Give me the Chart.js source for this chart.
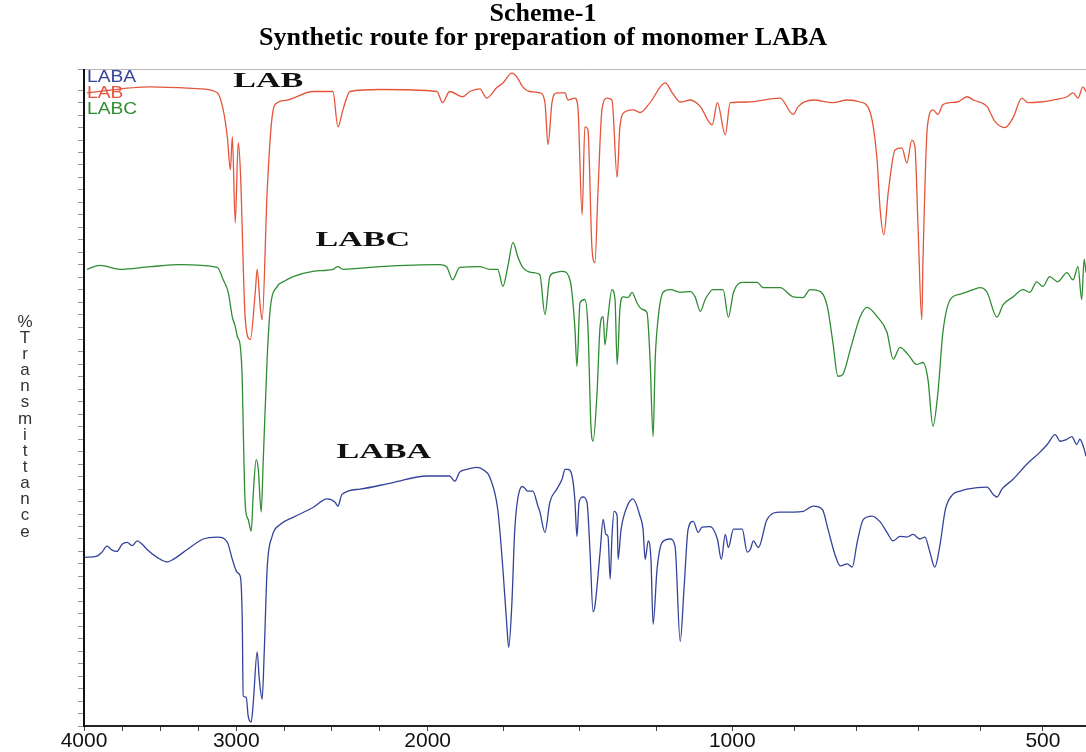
<!DOCTYPE html>
<html>
<head>
<meta charset="utf-8">
<script src="https://cdn.jsdelivr.net/npm/chart.js@4.4.1/dist/chart.umd.min.js"></script>
<style>
  html, body { margin: 0; padding: 0; background: #fff; }
  #wrap { width: 1086px; height: 752px; position: relative; }
</style>
</head>
<body>
<div id="wrap"><canvas id="chart"></canvas></div>
<script>
// wave number (cm-1) and % transmittance
const labaPoints = [
    [3993, 25.7], [3914, 25.9], [3882, 26.5], [3849, 27.4], [3816, 26.8], [3783, 26.6], [3750, 27.7],
    [3717, 28.0], [3684, 27.5], [3651, 28.2], [3618, 27.7], [3586, 26.9], [3520, 25.7], [3454, 25.0],
    [3414, 25.4], [3322, 26.9], [3217, 28.5], [3125, 28.8], [3059, 28.0], [3026, 25.4], [2995, 23.4],
    [2979, 22.8], [2969, 16.3], [2964, 4.6], [2948, 4.4], [2938, 1.5], [2922, 0.6], [2911, 3.7],
    [2891, 11.3], [2880, 7.2], [2865, 4.1], [2854, 11.3], [2839, 23.9], [2813, 28.9], [2771, 30.7],
    [2703, 31.8], [2599, 33.3], [2526, 34.6], [2484, 34.1], [2469, 33.5], [2448, 35.3], [2354, 36.1],
    [2182, 37.1], [2005, 38.1], [1928, 38.1], [1911, 37.3], [1895, 38.7], [1872, 39.1], [1839, 39.4],
    [1819, 39.1], [1796, 37.9], [1770, 33.0], [1753, 23.9], [1740, 15.2], [1734, 12.0], [1724, 18.3],
    [1714, 30.0], [1697, 36.1], [1688, 36.5], [1671, 35.8], [1655, 35.8], [1638, 33.5], [1632, 32.7],
    [1615, 29.5], [1599, 34.1], [1576, 36.1], [1559, 37.6], [1549, 39.1], [1540, 39.1], [1526, 38.1],
    [1517, 34.6], [1510, 28.9], [1503, 34.1], [1490, 34.9], [1477, 34.1], [1467, 26.5], [1457, 17.4],
    [1451, 18.3], [1434, 26.5], [1424, 31.5], [1415, 29.2], [1408, 28.9], [1401, 22.4], [1395, 28.9],
    [1388, 32.7], [1378, 32.0], [1375, 25.4], [1365, 30.0], [1345, 33.5], [1326, 34.6], [1303, 32.0],
    [1293, 30.0], [1286, 25.4], [1276, 28.2], [1267, 25.4], [1260, 15.5], [1247, 23.9], [1230, 28.0],
    [1204, 28.5], [1188, 27.4], [1171, 12.9], [1158, 21.3], [1145, 30.0], [1128, 31.2], [1112, 29.5],
    [1099, 30.3], [1073, 30.4], [1049, 28.5], [1036, 25.4], [1023, 29.2], [1013, 27.2], [998, 30.0],
    [984, 30.0], [976, 26.5], [971, 26.9], [966, 28.2], [958, 27.2], [944, 31.5], [923, 32.6],
    [902, 32.6], [886, 32.7], [870, 33.5], [855, 33.0], [846, 30.0], [834, 25.9], [826, 24.4],
    [815, 24.7], [807, 24.2], [799, 28.0], [789, 31.5], [775, 32.0], [762, 31.1], [751, 29.5],
    [741, 28.2], [730, 28.9], [719, 28.8], [709, 29.2], [698, 28.5], [690, 28.8], [682, 26.5],
    [674, 24.2], [666, 27.4], [657, 33.0], [645, 35.3], [633, 35.8], [622, 36.1], [590, 36.4],
    [580, 35.3], [574, 34.9], [566, 36.1], [548, 37.6], [526, 39.9], [505, 41.7], [493, 42.9],
    [480, 44.4], [472, 43.4], [461, 43.7], [453, 44.1], [445, 42.9], [440, 43.7], [433, 42.2], [430, 41.1]
];

const labPoints = [
    [3980, 96.5], [3566, 97.4], [3237, 97.1], [3125, 96.5], [3086, 93.9], [3059, 89.8], [3039, 84.8],
    [3026, 89.8], [3007, 76.7], [2990, 88.9], [2979, 84.8], [2953, 61.9], [2927, 58.9], [2901, 66.1],
    [2891, 69.6], [2875, 63.9], [2865, 61.9], [2839, 81.3], [2813, 92.8], [2786, 95.0], [2734, 95.4],
    [2599, 96.7], [2495, 96.7], [2469, 91.3], [2443, 93.9], [2406, 96.7], [2250, 97.0], [1970, 96.7],
    [1951, 95.0], [1928, 96.7], [1885, 95.9], [1862, 96.7], [1829, 97.1], [1806, 95.7], [1773, 97.3],
    [1753, 98.0], [1724, 99.5], [1707, 98.9], [1688, 97.4], [1665, 96.7], [1632, 96.5], [1615, 95.0],
    [1605, 88.6], [1592, 95.0], [1576, 96.5], [1549, 96.5], [1540, 95.4], [1517, 95.7], [1507, 94.4],
    [1493, 77.9], [1484, 91.3], [1474, 90.9], [1461, 73.1], [1451, 70.6], [1441, 81.3], [1428, 93.9],
    [1411, 95.7], [1395, 95.4], [1378, 83.6], [1369, 91.3], [1352, 93.6], [1326, 93.9], [1303, 93.5],
    [1270, 95.0], [1220, 98.0], [1197, 96.5], [1171, 95.1], [1138, 95.4], [1105, 94.4], [1066, 91.6],
    [1049, 95.0], [1023, 90.1], [1007, 95.0], [976, 95.1], [923, 95.7], [902, 93.2], [894, 94.4],
    [870, 95.4], [838, 95.0], [815, 95.4], [794, 95.1], [778, 93.5], [767, 86.3], [762, 78.7],
    [756, 74.9], [749, 81.3], [738, 87.8], [727, 88.1], [719, 85.8], [711, 89.3], [706, 88.3],
    [701, 76.1], [695, 61.9], [693, 71.1], [686, 91.3], [677, 93.9], [669, 93.2], [661, 94.7],
    [638, 95.1], [622, 95.9], [612, 95.4], [590, 94.4], [577, 92.1], [561, 91.2], [548, 92.7],
    [534, 95.7], [524, 95.0], [505, 95.1], [484, 95.4], [461, 95.9], [451, 96.5], [443, 95.7],
    [435, 97.4], [430, 96.7]
];

const labcPoints = [
    [3980, 69.6], [3895, 70.2], [3763, 69.6], [3566, 70.0], [3368, 70.3], [3125, 69.9], [3086, 68.0],
    [3053, 66.1], [3026, 62.3], [3007, 60.9], [2995, 59.4], [2979, 57.8], [2969, 52.8], [2964, 45.7],
    [2953, 33.5], [2938, 31.5], [2922, 29.7], [2911, 35.6], [2896, 40.6], [2885, 39.1], [2870, 32.6],
    [2859, 40.6], [2839, 55.9], [2823, 63.5], [2786, 67.0], [2755, 67.7], [2703, 68.5], [2599, 69.3],
    [2495, 69.6], [2469, 70.0], [2443, 69.6], [2250, 70.0], [1961, 70.3], [1938, 70.0], [1918, 68.0],
    [1895, 69.9], [1829, 70.0], [1796, 69.6], [1770, 69.6], [1753, 67.0], [1737, 70.0], [1720, 73.7],
    [1704, 71.5], [1688, 69.9], [1655, 69.1], [1632, 68.8], [1615, 62.7], [1599, 68.5], [1582, 69.1],
    [1559, 69.3], [1533, 68.0], [1517, 60.9], [1510, 54.8], [1500, 64.5], [1484, 65.0], [1474, 60.9],
    [1464, 45.7], [1457, 43.4], [1444, 50.8], [1434, 60.9], [1424, 62.4], [1418, 58.1], [1408, 62.4],
    [1395, 66.5], [1385, 65.0], [1378, 55.1], [1369, 63.5], [1359, 65.4], [1342, 65.3], [1329, 66.1],
    [1313, 64.5], [1296, 63.5], [1280, 63.0], [1270, 55.9], [1260, 44.1], [1253, 55.9], [1244, 61.9],
    [1227, 66.1], [1204, 66.5], [1171, 66.1], [1138, 66.2], [1122, 65.4], [1105, 63.2], [1089, 65.0],
    [1063, 66.5], [1030, 66.5], [1013, 62.3], [998, 66.1], [982, 67.6], [960, 67.6], [950, 66.8],
    [923, 66.8], [902, 65.4], [886, 65.3], [875, 66.5], [858, 66.2], [847, 63.9], [838, 58.4],
    [830, 53.3], [822, 53.6], [810, 57.4], [794, 62.4], [783, 63.8], [767, 62.4], [751, 60.0],
    [741, 55.9], [730, 57.7], [717, 56.6], [703, 55.1], [693, 55.4], [685, 52.8], [677, 45.7],
    [669, 50.8], [661, 60.0], [649, 65.0], [633, 65.8], [612, 66.5], [601, 66.8], [590, 66.1],
    [574, 62.3], [564, 64.2], [548, 65.4], [532, 66.5], [521, 66.1], [510, 67.7], [500, 67.0],
    [489, 68.5], [476, 67.7], [461, 69.1], [451, 68.0], [443, 70.0], [437, 65.0], [433, 71.1], [430, 69.1]
];

const waveTicks = [4000, 3750, 3500, 3250, 3000, 2750, 2500, 2250, 2000, 1750, 1500, 1250, 1000, 900, 800, 700, 600, 500];
const labelledTicks = [4000, 3000, 2000, 1000, 500];

// names written next to each trace
const traceNames = ["LAB", "LABC", "LABA"];
const traceNameWave = [2833, 2339, 2229];
const traceNameT = [98.2, 74.0, 41.7];

// the spectrometer changes x scale at 3000, 2000, 1000 and 500 cm-1
const axisBreaks = [[4000, 0], [3000, 0.152], [2000, 0.343], [1000, 0.647], [500, 0.957], [430, 1]];

function waveToFraction(w) {
    for (let i = 1; i < axisBreaks.length; i++) {
        const [w0, f0] = axisBreaks[i - 1];
        const [w1, f1] = axisBreaks[i];
        if (w >= w1 || i === axisBreaks.length - 1) {
            return f0 + (w0 - w) / (w0 - w1) * (f1 - f0);
        }
    }
}

function fractionToWave(f) {
    for (let i = 1; i < axisBreaks.length; i++) {
        const [w0, f0] = axisBreaks[i - 1];
        const [w1, f1] = axisBreaks[i];
        if (f <= f1 || i === axisBreaks.length - 1) {
            return w0 - (f - f0) / (f1 - f0) * (w0 - w1);
        }
    }
}

class WaveNumberScale extends Chart.LinearScale {
    buildTicks() {
        return waveTicks.map(value => ({ value }));
    }
    getPixelForValue(value) {
        return this.left + waveToFraction(value) * this.width;
    }
    getValueForPixel(pixel) {
        return fractionToWave((pixel - this.left) / this.width);
    }
}
WaveNumberScale.id = "wavenumber";
WaveNumberScale.defaults = Chart.LinearScale.defaults;
Chart.register(WaveNumberScale);

const traceTitles = {
    id: "traceTitles",
    afterDatasetsDraw(chart) {
        const { ctx } = chart;
        const x = chart.scales.x;
        const y = chart.scales.y;
        ctx.save();
        ctx.font = "bold 22px 'Liberation Serif'";
        ctx.fillStyle = "#111";
        ctx.textAlign = "center";
        ctx.textBaseline = "middle";
        traceNames.forEach((name, i) => {
            ctx.save();
            ctx.translate(x.getPixelForValue(traceNameWave[i]), y.getPixelForValue(traceNameT[i]));
            ctx.scale(1.55, 1);
            ctx.fillText(name, 0, 0);
            ctx.restore();
        });
        ctx.restore();
    }
};

// coloured series names in the top left corner of the plot
const cornerLegend = {
    id: "cornerLegend",
    afterDatasetsDraw(chart) {
        const { ctx, chartArea } = chart;
        ctx.save();
        ctx.font = "16px 'Liberation Sans'";
        ctx.textAlign = "left";
        ctx.textBaseline = "middle";
        chart.data.datasets.forEach((ds, i) => {
            ctx.save();
            ctx.translate(chartArea.left + 3, chartArea.top + 8 + i * 16);
            ctx.scale(1.2, 1);
            ctx.fillStyle = ds.borderColor;
            ctx.fillText(ds.label, 0, 0);
            ctx.restore();
        });
        ctx.restore();
    }
};

// %Transmittance written as a column of upright letters
const sideTitle = {
    id: "sideTitle",
    afterDraw(chart) {
        const ctx = chart.ctx;
        ctx.save();
        ctx.font = "17px 'Liberation Sans'";
        ctx.fillStyle = "#333";
        ctx.textAlign = "center";
        ctx.textBaseline = "middle";
        [..."%Transmittance"].forEach((ch, i) => ctx.fillText(ch, 25, 322 + i * 16.15));
        ctx.restore();
    }
};

let chart;

function initChart() {
    const ctx = document.getElementById("chart");
    const toXY = pts => pts.map(([x, y]) => ({ x, y }));

    chart = new Chart(ctx, {
        type: "line",
        data: {
            datasets: [
                { label: "LABA", data: toXY(labaPoints), borderColor: "#34439a" },
                { label: "LAB", data: toXY(labPoints), borderColor: "#e4553b" },
                { label: "LABC", data: toXY(labcPoints), borderColor: "#2f8c33" }
            ]
        },
        options: {
            responsive: true,
            maintainAspectRatio: false,
            animation: false,
            layout: { padding: 0 },
            elements: {
                point: { radius: 0 },
                line: { borderWidth: 1.3, cubicInterpolationMode: "monotone" }
            },
            scales: {
                x: {
                    type: "wavenumber",
                    position: "bottom",
                    min: 430,
                    max: 4000,
                    border: { color: "#222", width: 2 },
                    grid: { display: true, drawOnChartArea: false, drawTicks: true, tickLength: 5, color: "#444" },
                    ticks: {
                        autoSkip: false,
                        maxRotation: 0,
                        padding: 0,
                        color: "#111",
                        font: { family: "'Liberation Sans'", size: 21, lineHeight: 1 },
                        callback: v => labelledTicks.includes(v) ? String(v) : ""
                    }
                },
                xTop: {
                    type: "linear",
                    position: "top",
                    ticks: { display: false },
                    grid: { display: false },
                    border: { color: "#b8b8b8", width: 1 }
                },
                y: {
                    min: 0,
                    max: 100,
                    ticks: { display: false, stepSize: 1.9 },
                    grid: { drawOnChartArea: false, tickLength: 6, color: "#999" },
                    border: { color: "#111", width: 2 },
                    afterFit: s => { s.width = 84; }
                }
            },
            plugins: {
                title: {
                    display: true,
                    text: ["Scheme-1", "Synthetic route for preparation of monomer LABA"],
                    color: "#000",
                    font: { family: "'Liberation Serif'", size: 26, weight: "bold", lineHeight: 0.92 },
                    padding: { top: 2, bottom: 12 }
                },
                legend: { display: false },
                tooltip: { enabled: false }
            }
        },
        plugins: [traceTitles, cornerLegend, sideTitle]
    });
}

initChart();
</script>
</body>
</html>
